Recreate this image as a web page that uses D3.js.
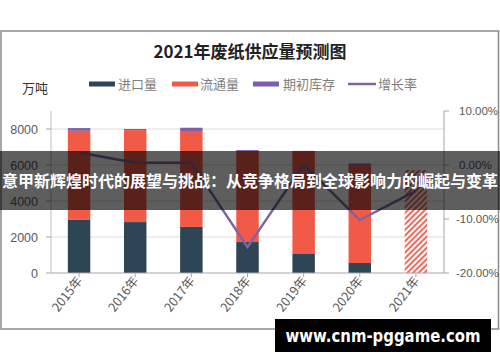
<!DOCTYPE html>
<html><head><meta charset="utf-8">
<script src="https://cdn.jsdelivr.net/npm/d3@7"></script>
<style>html,body{margin:0;padding:0;background:#fff;}svg{display:block;}</style>
</head><body>
<svg id="c" width="500" height="362"></svg>
<script>
const years = ["2015年","2016年","2017年","2018年","2019年","2020年","2021年"];
const importVol = [2950, 2830, 2560, 1720, 1055, 555, null];
const circulation = [4950, 5110, 5330, 5060, 5680, 5450, null];
const inventory = [150, 60, 180, 50, 50, 80, null];
const forecastTotal = [null, null, null, null, null, null, 5720];
const growth = [0.023, 0.004, 0.004, -0.152, 0.001, -0.102, -0.048];
const leftTicks = [0, 2000, 4000, 6000, 8000];
const rightTicks = [-0.2, -0.1, 0, 0.1];
const seriesNames = ["进口量", "流通量", "期初库存", "增长率"];
const colors = {imp: "#2E4556", circ: "#F25A48", inv: "#7E5FA8", line: "#8064A2"};

const svg = d3.select("#c");
const font = "'Liberation Sans', Arial, sans-serif";
const cjk = "'Noto Sans CJK SC', sans-serif";

// frame
svg.append("rect").attr("x", 1).attr("y", 31).attr("width", 497.5).attr("height", 298)
  .attr("fill", "#fff").attr("stroke", "#8a8a8a").attr("stroke-width", 1.5);

const x = d3.scaleBand().domain(years).range([51, 444]).paddingInner(0.6).paddingOuter(0.3);
const yL = d3.scaleLinear().domain([0, 9000]).range([273, 111]);
const yR = d3.scaleLinear().domain([-0.2, 0.1]).range([273, 111]);

// pattern
const defs = svg.append("defs");
const pat = defs.append("pattern").attr("id", "hatch").attr("patternUnits", "userSpaceOnUse")
  .attr("width", 4).attr("height", 4).attr("patternTransform", "rotate(45)");
pat.append("rect").attr("width", 4).attr("height", 4).attr("fill", "#fff");
pat.append("rect").attr("width", 1.8).attr("height", 4).attr("fill", colors.circ);

// grid
svg.append("g").selectAll("line").data(leftTicks.filter(d => d > 0)).join("line")
  .attr("x1", 51).attr("x2", 444).attr("y1", d => yL(d)).attr("y2", d => yL(d))
  .attr("stroke", "#dcdcdc").attr("stroke-width", 1);

// title
svg.append("text").attr("x", 250).attr("y", 58).attr("text-anchor", "middle")
  .attr("font-family", cjk).attr("font-weight", "bold").attr("font-size", 17).attr("fill", "#222")
  .text("2021年废纸供应量预测图");
svg.append("text").attr("x", 22).attr("y", 93).attr("font-family", cjk).attr("font-size", 13)
  .attr("fill", "#333").text("万吨");

// legend
const leg = [
  {name: seriesNames[0], c: colors.imp, x: 89, tx: 118, type: "rect"},
  {name: seriesNames[1], c: colors.circ, x: 172, tx: 200, type: "rect"},
  {name: seriesNames[2], c: colors.inv, x: 253, tx: 283, type: "rect"},
  {name: seriesNames[3], c: colors.line, x: 348, tx: 378, type: "line"}
];
const lg = svg.append("g");
leg.forEach(l => {
  if (l.type === "rect") lg.append("rect").attr("x", l.x).attr("y", 81.5).attr("width", 26).attr("height", 5).attr("fill", l.c);
  else lg.append("line").attr("x1", l.x).attr("x2", l.x + 28).attr("y1", 84).attr("y2", 84).attr("stroke", l.c).attr("stroke-width", 2.5);
  lg.append("text").attr("x", l.tx).attr("y", 88.5).attr("font-family", cjk).attr("font-size", 13)
    .attr("fill", "#808080").text(l.name);
});

// bars
const stackData = years.map((y, i) => ({year: y, imp: importVol[i], circ: circulation[i], inv: inventory[i]}))
  .filter(d => d.imp != null);
const stack = d3.stack().keys(["imp", "circ", "inv"])(stackData);
svg.append("g").selectAll("g").data(stack).join("g").attr("fill", d => colors[d.key])
  .selectAll("rect").data(d => d).join("rect")
  .attr("x", d => x(d.data.year)).attr("width", x.bandwidth())
  .attr("y", d => yL(d[1])).attr("height", d => yL(d[0]) - yL(d[1]));
svg.append("g").selectAll("rect").data(years.map((y, i) => ({year: y, v: forecastTotal[i]})).filter(d => d.v != null))
  .join("rect").attr("x", d => x(d.year)).attr("width", x.bandwidth())
  .attr("y", d => yL(d.v)).attr("height", d => yL(0) - yL(d.v)).attr("fill", "url(#hatch)");

// axes lines
svg.append("line").attr("x1", 51).attr("x2", 51).attr("y1", 111).attr("y2", 273).attr("stroke", "#bfbfbf");
svg.append("line").attr("x1", 444).attr("x2", 444).attr("y1", 111).attr("y2", 273).attr("stroke", "#a6a6a6");
svg.append("line").attr("x1", 51).attr("x2", 444).attr("y1", 273).attr("y2", 273).attr("stroke", "#a6a6a6");

// left ticks
const lt = svg.append("g");
lt.selectAll("line").data(leftTicks).join("line").attr("x1", 46).attr("x2", 51)
  .attr("y1", d => yL(d)).attr("y2", d => yL(d)).attr("stroke", "#a6a6a6");
lt.selectAll("text").data(leftTicks).join("text").attr("x", 38).attr("y", d => yL(d) + 4.5)
  .attr("text-anchor", "end").attr("font-family", font).attr("font-size", 12.5).attr("fill", "#595959")
  .text(d => d);
// right ticks
const rt = svg.append("g");
rt.selectAll("line").data(rightTicks).join("line").attr("x1", 444).attr("x2", 449)
  .attr("y1", d => yR(d)).attr("y2", d => yR(d)).attr("stroke", "#a6a6a6");
rt.selectAll("text").data(rightTicks).join("text").attr("x", d => d < 0 ? 456 : 459).attr("y", d => yR(d) + 4)
  .attr("font-family", font).attr("font-size", 11.5).attr("fill", "#595959")
  .text(d => d3.format(".2%")(d).replace("−", "-"));
// x ticks
const xt = svg.append("g");
xt.selectAll("line").data(years).join("line")
  .attr("x1", d => x(d) + x.bandwidth() / 2).attr("x2", d => x(d) + x.bandwidth() / 2)
  .attr("y1", 273).attr("y2", 277).attr("stroke", "#a6a6a6");
xt.selectAll("text").data(years).join("text")
  .attr("transform", d => `translate(${x(d) + x.bandwidth() / 2 + 4},${281}) rotate(-52)`)
  .attr("text-anchor", "end").attr("font-family", cjk).attr("font-size", 12.5).attr("fill", "#595959")
  .text(d => d);

// growth line
const line = d3.line().x((d, i) => x(years[i]) + x.bandwidth() / 2).y(d => yR(d));
svg.append("path").datum(growth).attr("d", line).attr("fill", "none")
  .attr("stroke", colors.line).attr("stroke-width", 2.5).attr("stroke-linejoin", "miter");

// banner overlay
svg.append("rect").attr("x", 0).attr("y", 151).attr("width", 500).attr("height", 59)
  .attr("fill", "#000").attr("opacity", 0.63);
svg.append("text").attr("x", 250).attr("y", 187).attr("text-anchor", "middle")
  .attr("font-family", cjk).attr("font-weight", "bold").attr("font-size", 16).attr("fill", "#fff")
  .text("意甲新辉煌时代的展望与挑战：从竞争格局到全球影响力的崛起与变革");

// watermark
svg.append("rect").attr("x", 275).attr("y", 319).attr("width", 216).attr("height", 33).attr("fill", "#000");
svg.append("text").attr("x", 383).attr("y", 342).attr("text-anchor", "middle")
  .attr("font-family", "'DejaVu Sans', sans-serif").attr("font-weight", "bold").attr("font-size", 18)
  .attr("fill", "#fff").attr("textLength", 195).attr("lengthAdjust", "spacingAndGlyphs")
  .text("www.cnm-pggame.com");
</script>
</body></html>
